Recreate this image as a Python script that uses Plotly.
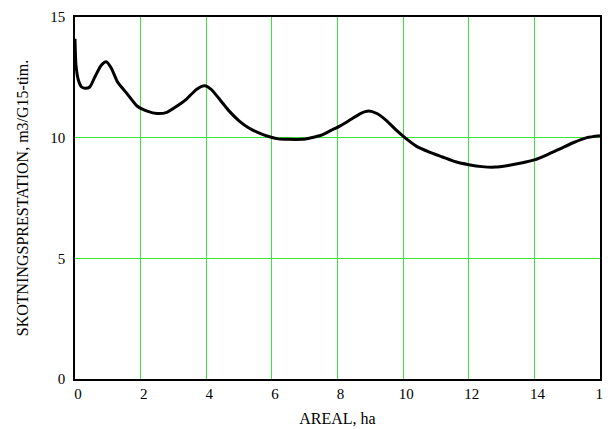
import plotly.graph_objects as go

areal = [0, 0.03, 0.1, 0.2, 0.3, 0.45, 0.6, 0.8, 0.95, 1.1, 1.3, 1.6, 1.9, 2.2, 2.5, 2.8,
         3.1, 3.4, 3.7, 3.95, 4.15, 4.4, 4.7, 5.0, 5.3, 5.6, 5.9, 6.2, 6.5, 6.9, 7.2, 7.5,
         7.8, 8.1, 8.4, 8.7, 8.95, 9.2, 9.5, 9.8, 10.1, 10.4, 10.8, 11.2, 11.6, 12.0, 12.4,
         12.8, 13.2, 13.6, 14.0, 14.4, 14.8, 15.2, 15.6, 16.0]
prestation = [14.1, 13.0, 12.4, 12.1, 12.05, 12.1, 12.5, 13.0, 13.15, 12.9, 12.3, 11.8, 11.3,
              11.1, 11.0, 11.05, 11.3, 11.6, 12.0, 12.15, 12.0, 11.6, 11.1, 10.7, 10.4, 10.2,
              10.05, 9.95, 9.93, 9.93, 10.0, 10.1, 10.3, 10.5, 10.75, 11.0, 11.1, 11.0, 10.7,
              10.3, 9.95, 9.65, 9.4, 9.2, 9.0, 8.88, 8.8, 8.78, 8.85, 8.95, 9.08, 9.3, 9.55,
              9.8, 10.0, 10.08]
x_ticks = [0, 2, 4, 6, 8, 10, 12, 14, 16]
y_ticks = [0, 5, 10, 15]

fig = go.Figure()
fig.add_trace(go.Scatter(x=areal, y=prestation, mode="lines",
                         line=dict(color="black", width=3, shape="spline", smoothing=0.6),
                         showlegend=False))

serif = "Liberation Serif, Times New Roman, serif"
font = dict(family=serif, size=15, color="black")
grid = "#3de43d"
fig.update_layout(
    width=603, height=421,
    margin=dict(l=67, r=11, t=9, b=50),
    paper_bgcolor="white", plot_bgcolor="white",
    font=font,
    xaxis=dict(range=[0, 16], tickvals=x_ticks, showgrid=True, gridcolor=grid, gridwidth=1,
               showline=True, linecolor="black", linewidth=1.5, mirror=True, zeroline=False,
               automargin=False, ticklabelshift=3, tickfont=dict(family=serif, size=15),
               ticks="", title=dict(text="AREAL, ha", font=dict(family=serif, size=16, color="black"),
                                    standoff=12)),
    yaxis=dict(range=[0, 15], tickvals=y_ticks, showgrid=True, gridcolor=grid, gridwidth=1,
               showline=True, linecolor="black", linewidth=1.5, mirror=True, zeroline=False,
               automargin=False, tickfont=dict(family=serif, size=15),
               ticks="", ticklabelstandoff=5,
               title=dict(text="SKOTNINGSPRESTATION, m3/G15-tim.",
                          font=dict(family=serif, size=16, color="black"), standoff=18)),
)
fig.write_html("out.html")
